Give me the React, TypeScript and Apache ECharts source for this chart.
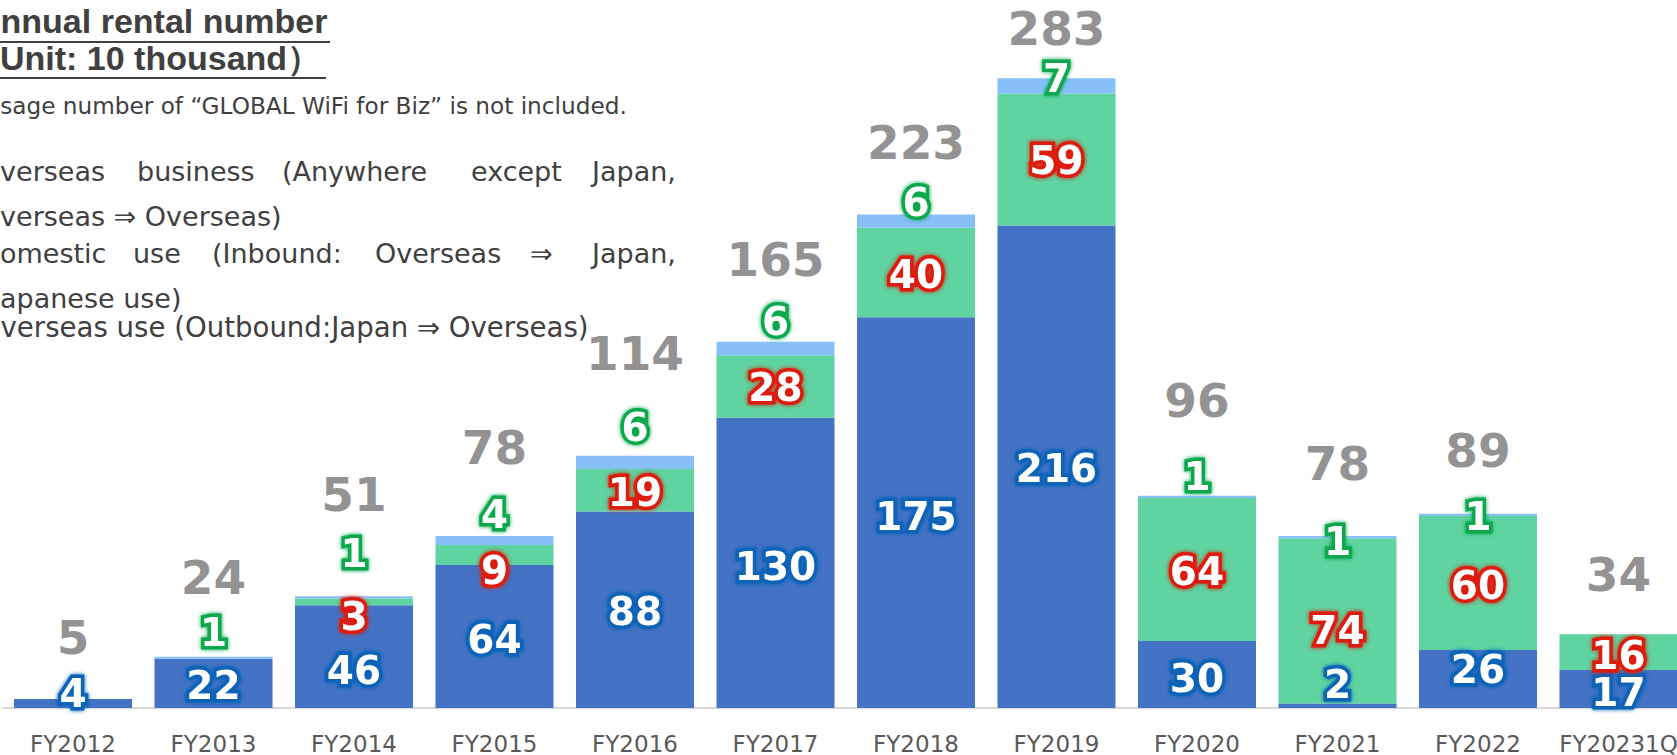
import React, { useEffect, useRef } from "react";
import * as echarts from "echarts";

const categories = ["FY2012", "FY2013", "FY2014", "FY2015", "FY2016", "FY2017", "FY2018", "FY2019", "FY2020", "FY2021", "FY2022", "FY20231Q"];
// Overseas use (Outbound: Japan => Overseas)
const outbound = [4, 22, 46, 64, 88, 130, 175, 216, 30, 2, 26, 17];
// Domestic use (Inbound / Japanese use)
const domestic = [0, 0, 3, 9, 19, 28, 40, 59, 64, 74, 60, 16];
// Overseas business (Overseas => Overseas)
const business = [0, 1, 1, 4, 6, 6, 6, 7, 1, 1, 1, 0];
const totals = [5, 24, 51, 78, 114, 165, 223, 283, 96, 78, 89, 34];

// label vertical nudges (px)
const outboundDy = [-10, 2, 14, 3, 2, 4, 4, 2, 4, -21, -9, 3];
const domesticDy = [0, 0, 15, 15, 2, 1, 2, 1, 2, 10, 3, 3];
const businessDy = [0, -25, -44, -26, -35, -27, -19, -8, -20, 4, 2, 0];
const totalDy = [-59, -77, -100, -86, -100, -80, -67, -47, -93, -70, -59, -58];

const FONT = "DejaVu Sans";
const TXT = "#404040";

function items(values: number[], dys: number[]) {
  return values.map((v, i) => ({
    value: v,
    label: { show: v > 0, offset: [0, dys[i]] },
  }));
}

function valueLabel(border: string) {
  return {
    show: true,
    position: "inside",
    formatter: "{c}",
    fontFamily: FONT,
    fontWeight: "bold",
    fontSize: 39,
    color: "#ffffff",
    textBorderColor: border,
    textBorderWidth: 7,
    textShadowColor: border,
    textShadowBlur: 4,
  };
}

function word(text: string, x: number, y: number, size: number, bold = false, family = FONT) {
  return {
    type: "text",
    x,
    y,
    silent: true,
    style: {
      text,
      fill: TXT,
      fontFamily: family,
      fontSize: size,
      fontWeight: bold ? "bold" : "normal",
      textAlign: "left",
      textVerticalAlign: "middle",
    },
  };
}

function uline(x1: number, x2: number, y: number) {
  return {
    type: "line",
    silent: true,
    shape: { x1, y1: y, x2, y2: y },
    style: { stroke: TXT, lineWidth: 2 },
  };
}

const TITLE_FONT = "Liberation Sans";

export default function App() {
  const ref = useRef<HTMLDivElement>(null);
  useEffect(() => {
    const chart = echarts.init(ref.current!, null, { renderer: "svg" });
    const option: any = {
      animation: false,
      backgroundColor: "#ffffff",
      grid: { left: 2.75, right: 11.25, top: 38, bottom: 47, containLabel: false },
      xAxis: {
        type: "category",
        data: categories,
        axisTick: { show: false },
        axisLine: { lineStyle: { color: "#d9d9d9", width: 2 } },
        axisLabel: { interval: 0, hideOverlap: false, fontFamily: FONT, fontSize: 23, color: "#595959", margin: 24 },
      },
      yAxis: { type: "value", min: 0, max: 300, show: false, splitLine: { show: false } },
      series: [
        {
          name: "Overseas use",
          type: "bar",
          stack: "total",
          barCategoryGap: "16%",
          itemStyle: { color: "#4472c4" },
          label: valueLabel("#0b63b8"),
          data: items(outbound, outboundDy),
        },
        {
          name: "Domestic use",
          type: "bar",
          stack: "total",
          itemStyle: { color: "#5fd3a0" },
          label: valueLabel("#dd1a0e"),
          data: items(domestic, domesticDy),
        },
        {
          name: "Overseas business",
          type: "bar",
          stack: "total",
          itemStyle: { color: "#87c0f7" },
          label: valueLabel("#0aa84c"),
          data: items(business, businessDy),
        },
        {
          name: "Total",
          type: "scatter",
          symbolSize: 1,
          itemStyle: { color: "rgba(0,0,0,0)" },
          label: {
            show: true,
            position: "inside",
            formatter: "{c}",
            fontFamily: FONT,
            fontWeight: "bold",
            fontSize: 47,
            color: "#767676",
          },
          data: totals.map((v, i) => ({ value: v, label: { offset: [0, totalDy[i]] } })),
        },
      ],
      graphic: [
        word("Annual rental number", -24, 21, 34, true, TITLE_FONT),
        uline(0, 330, 42),
        word("（Unit: 10 thousand）", -34, 58, 34, true, TITLE_FONT),
        uline(0, 326, 78),
        word("Usage number of “GLOBAL WiFi for Biz” is not included.", -16.8, 105, 23.2),
        word("Overseas", -21.2, 171, 27),
        word("business", 137, 171, 27),
        word("(Anywhere", 282, 171, 27),
        word("except", 471, 171, 27),
        word("Japan,", 592, 171, 27),
        word("Overseas ⇒ Overseas)", -21.2, 216, 27),
        word("Domestic", -20.8, 253, 27),
        word("use", 133, 253, 27),
        word("(Inbound:", 212, 253, 27),
        word("Overseas", 375, 253, 27),
        word("⇒", 530, 253, 27),
        word("Japan,", 592, 253, 27),
        word("Japanese use)", -8, 298, 27),
        word("Overseas use (Outbound:Japan ⇒ Overseas)", -21.2, 327, 27.6),
      ],
    };
    chart.setOption(option);
    return () => chart.dispose();
  }, []);
  return (
    <div style={{ position: "fixed", left: 0, top: 0, width: 1677, height: 755, overflow: "hidden", background: "#fff" }}>
      <div ref={ref} style={{ position: "absolute", left: 0, top: 0, width: 1700, height: 755 }} />
    </div>
  );
}
